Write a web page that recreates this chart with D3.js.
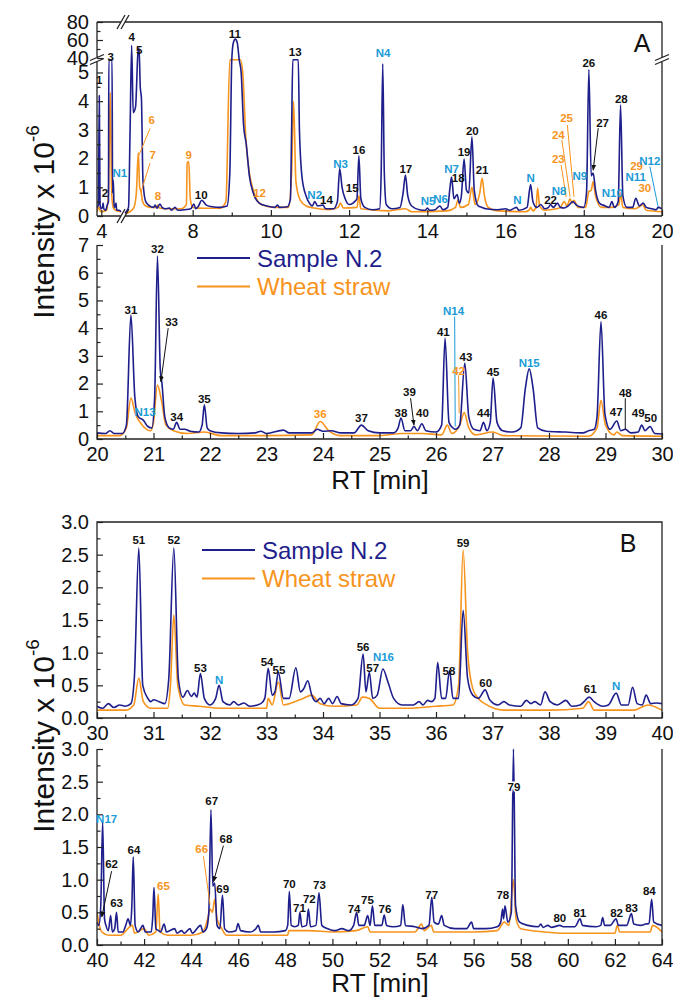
<!DOCTYPE html>
<html>
<head>
<meta charset="utf-8">
<script src="https://cdn.jsdelivr.net/npm/d3@7"></script>
<style>
  body { margin: 0; background: #fff; }
  svg { display: block; }
</style>
</head>
<body>
<svg id="chart" width="673" height="1001"></svg>
<script>
// ---- data: [RT min, intensity x1e-6] ----
const blueA1 = [
  [3.88,0.3],[3.92,0.4],[3.944,4.2],[3.965,0.4],[3.99,0.25],[4.03,0.3],[4.05,0.45],[4.07,0.25],[4.12,0.2],[4.17,0.4],
  [4.2,0.5],[4.21,20],[4.3,20],[4.315,0.8],[4.335,1.25],[4.355,0.4],[4.38,0.3],[4.41,0.45],[4.43,0.2],[4.5,0.2],[4.55,0.15],
  [6.27,0.1],[6.36,0.3],[6.4,3.0],[6.44,54],[6.48,3.6],[6.54,3.8],[6.6,45],[6.63,51],[6.66,4.5],[6.69,4.1],[6.73,1.2],
  [6.8,0.5],[6.9,0.35],[7.0,0.3],[7.04,0.38],[7.09,0.27],[7.16,0.42],[7.22,0.3],[7.3,0.25],[7.4,0.28],[7.46,0.2],[7.55,0.3],
  [7.62,0.2],[7.8,0.22],[7.95,0.25],[8.03,0.42],[8.08,0.25],[8.15,0.35],[8.23,0.55],[8.35,0.38],[8.5,0.32],[8.7,0.3],
  [8.88,0.35],[8.95,1.5],[9.0,20],[9.04,57],[9.09,61],[9.14,57],[9.19,20],[9.24,5],[9.3,3.2],[9.37,2.5],[9.45,1.4],
  [9.55,0.8],[9.7,0.45],[9.9,0.35],[10.1,0.3],[10.17,0.38],[10.22,0.3],[10.42,0.32],[10.5,0.6],[10.53,3],[10.56,20],
  [10.7,20],[10.73,3],[10.8,1.3],[10.9,0.7],[11.0,0.42],[11.06,0.35],[11.12,0.5],[11.2,0.35],[11.33,0.38],[11.4,0.25],
  [11.6,0.25],[11.7,0.5],[11.76,1.65],[11.82,1.0],[11.9,0.6],[12.0,0.4],[12.1,0.45],[12.14,0.5],[12.2,0.6],[12.25,2.1],
  [12.3,0.6],[12.4,0.3],[12.6,0.22],[12.78,0.25],[12.82,1.5],[12.86,5.3],[12.9,1.5],[12.95,0.4],[13.1,0.25],[13.3,0.3],
  [13.38,0.8],[13.44,1.43],[13.5,0.7],[13.6,0.35],[13.8,0.22],[13.95,0.2],[14.0,0.28],[14.06,0.2],[14.2,0.22],[14.32,0.35],
  [14.4,0.22],[14.52,0.3],[14.58,1.0],[14.62,1.36],[14.68,0.6],[14.76,0.75],[14.82,0.45],[14.87,0.7],[14.94,1.98],[15.0,0.9],
  [15.06,0.8],[15.14,2.76],[15.2,0.9],[15.3,0.35],[15.4,0.3],[15.5,0.25],[15.8,0.22],[16.0,0.25],[16.1,0.2],[16.28,0.3],
  [16.34,0.2],[16.55,0.3],[16.64,1.1],[16.7,0.5],[16.8,0.3],[16.9,0.4],[17.0,0.25],[17.1,0.3],[17.15,0.4],[17.22,0.3],
  [17.33,0.45],[17.4,0.3],[17.5,0.28],[17.6,0.35],[17.72,0.5],[17.8,0.4],[17.9,0.32],[18.0,0.3],[18.07,0.8],[18.13,5.1],
  [18.19,1.4],[18.24,1.5],[18.3,0.9],[18.4,0.45],[18.55,0.35],[18.65,0.3],[18.72,0.5],[18.78,0.3],[18.88,0.5],[18.94,3.87],
  [19.0,0.7],[19.1,0.3],[19.25,0.3],[19.33,0.62],[19.42,0.35],[19.52,0.45],[19.6,0.3],[19.75,0.25],[19.85,0.22],[19.9,0.3],[20,0.25]
];
const orangeA1 = [
  [3.88,0.15],[3.94,0.3],[3.98,0.15],[4.15,0.2],[4.2,0.8],[4.25,4.3],[4.29,0.8],[4.33,0.3],[4.4,0.2],[4.55,0.15],
  [6.27,0.1],[6.4,0.15],[6.5,0.3],[6.56,0.8],[6.61,2.2],[6.645,1.0],[6.68,0.85],[6.72,0.5],[6.8,0.35],[6.95,0.3],[7.08,0.3],
  [7.11,0.38],[7.15,0.28],[7.4,0.25],[7.7,0.25],[7.84,0.4],[7.86,1.85],[7.9,1.9],[7.94,0.6],[8.0,0.3],[8.3,0.27],[8.7,0.27],
  [8.85,0.5],[8.95,20],[9.22,20],[9.28,5],[9.36,2.7],[9.45,1.5],[9.55,0.9],[9.65,0.55],[9.71,0.45],[9.78,0.38],[10.1,0.3],
  [10.45,0.3],[10.53,1.5],[10.58,4.0],[10.64,1.2],[10.75,0.55],[10.9,0.35],[11.1,0.28],[11.5,0.22],[11.72,0.3],[11.78,0.45],
  [11.85,0.28],[12.2,0.3],[12.25,0.7],[12.3,0.25],[13.0,0.18],[13.44,0.25],[13.6,0.15],[14.5,0.18],[14.72,0.3],[14.78,0.55],
  [14.85,0.3],[15.05,0.4],[15.14,1.0],[15.22,0.4],[15.34,0.8],[15.4,1.32],[15.46,0.7],[15.56,0.3],[15.8,0.18],[16.5,0.15],
  [16.6,0.2],[16.64,0.3],[16.7,0.18],[16.78,0.3],[16.82,0.97],[16.87,0.35],[17.0,0.2],[17.3,0.25],[17.4,0.3],[17.5,0.5],
  [17.57,0.35],[17.65,0.6],[17.7,0.45],[17.75,0.55],[17.85,0.3],[18.05,0.3],[18.13,0.85],[18.19,0.9],[18.24,1.2],[18.3,0.7],
  [18.45,0.3],[18.7,0.3],[18.9,0.4],[18.94,0.8],[19.0,0.3],[19.3,0.25],[19.45,0.35],[19.5,0.4],[19.6,0.2],[20,0.15]
];
const blueA2 = [
  [20,0.22],[20.15,0.2],[20.23,0.3],[20.3,0.2],[20.45,0.2],[20.52,0.5],[20.6,4.48],[20.67,1.5],[20.73,0.8],[20.82,0.68],
  [20.9,0.45],[20.97,0.4],[21.02,1.5],[21.07,6.6],[21.12,2.5],[21.15,2.0],[21.2,0.8],[21.28,0.4],[21.35,0.35],[21.41,0.6],
  [21.47,0.35],[21.55,0.35],[21.65,0.28],[21.8,0.25],[21.86,0.5],[21.9,1.23],[21.95,0.4],[22.0,0.3],[22.2,0.22],[22.5,0.2],
  [22.8,0.22],[22.9,0.28],[23.0,0.2],[23.3,0.32],[23.4,0.22],[23.8,0.22],[23.9,0.35],[24.0,0.28],[24.15,0.3],[24.3,0.22],
  [24.55,0.22],[24.68,0.5],[24.8,0.3],[25.0,0.22],[25.25,0.22],[25.33,0.4],[25.38,0.76],[25.45,0.3],[25.55,0.3],[25.61,0.45],
  [25.67,0.3],[25.75,0.55],[25.82,0.3],[26.0,0.25],[26.1,0.5],[26.16,3.64],[26.23,0.6],[26.3,0.4],[26.34,0.35],[26.42,0.5],
  [26.51,2.74],[26.58,0.8],[26.67,0.35],[26.78,0.3],[26.84,0.6],[26.9,0.3],[26.96,0.6],[27.01,2.2],[27.08,0.6],[27.18,0.3],
  [27.35,0.25],[27.5,0.4],[27.58,1.8],[27.65,2.53],[27.72,1.8],[27.8,0.4],[27.95,0.28],[28.3,0.25],[28.6,0.22],[28.7,0.3],
  [28.8,0.35],[28.85,0.8],[28.92,4.24],[28.99,0.9],[29.08,0.35],[29.2,0.65],[29.27,0.3],[29.35,0.35],[29.45,0.22],[29.58,0.25],
  [29.64,0.5],[29.7,0.3],[29.79,0.45],[29.87,0.2],[30,0.18]
];
const orangeA2 = [
  [20,0.12],[20.4,0.12],[20.52,0.4],[20.6,1.48],[20.68,0.9],[20.8,0.5],[20.95,0.3],[21.0,0.6],[21.07,1.95],[21.14,1.4],
  [21.22,0.5],[21.35,0.3],[21.6,0.2],[21.9,0.25],[22.2,0.12],[23.0,0.12],[23.8,0.15],[23.95,0.63],[24.1,0.3],[24.3,0.12],
  [25.0,0.12],[25.4,0.2],[25.75,0.2],[26.1,0.15],[26.2,0.5],[26.28,0.2],[26.42,0.5],[26.5,0.95],[26.58,0.4],[26.7,0.15],
  [27.0,0.25],[27.2,0.12],[28.7,0.1],[28.85,0.4],[28.92,1.4],[29.0,0.5],[29.15,0.15],[29.2,0.25],[29.3,0.12],[30,0.1]
];
const blueB1 = [
  [30,0.18],[30.1,0.15],[30.2,0.22],[30.3,0.16],[30.4,0.2],[30.5,0.18],[30.6,0.22],[30.66,0.6],[30.74,2.6],[30.81,0.5],
  [30.9,0.3],[30.95,0.25],[31.0,0.28],[31.1,0.25],[31.2,0.22],[31.27,0.6],[31.36,2.6],[31.44,0.6],[31.52,0.32],[31.6,0.42],
  [31.67,0.33],[31.72,0.38],[31.77,0.32],[31.83,0.68],[31.9,0.3],[32.0,0.2],[32.1,0.3],[32.16,0.5],[32.23,0.25],[32.35,0.2],
  [32.42,0.25],[32.5,0.2],[32.6,0.23],[32.7,0.18],[32.9,0.22],[32.97,0.3],[33.03,0.76],[33.1,0.35],[33.15,0.4],[33.21,0.7],
  [33.3,0.3],[33.4,0.3],[33.52,0.77],[33.6,0.4],[33.66,0.45],[33.73,0.57],[33.8,0.35],[33.88,0.25],[33.95,0.3],[34.02,0.22],
  [34.1,0.3],[34.17,0.22],[34.25,0.33],[34.32,0.22],[34.5,0.2],[34.62,0.3],[34.71,0.98],[34.76,0.4],[34.82,0.7],[34.88,0.3],
  [34.96,0.35],[35.06,0.75],[35.15,0.55],[35.25,0.3],[35.4,0.2],[35.6,0.2],[35.7,0.25],[35.77,0.2],[35.85,0.27],[35.92,0.25],
  [35.98,0.3],[36.03,0.85],[36.1,0.3],[36.17,0.3],[36.24,0.73],[36.3,0.3],[36.4,0.3],[36.48,1.65],[36.56,0.6],[36.65,0.35],
  [36.75,0.3],[36.87,0.43],[36.95,0.28],[37.1,0.2],[37.2,0.25],[37.3,0.2],[37.5,0.18],[37.6,0.27],[37.68,0.22],[37.75,0.25],
  [37.85,0.2],[37.93,0.4],[38.02,0.25],[38.15,0.2],[38.3,0.27],[38.4,0.18],[38.55,0.2],[38.62,0.25],[38.71,0.32],[38.8,0.25],
  [38.95,0.18],[39.05,0.2],[39.19,0.38],[39.28,0.2],[39.4,0.2],[39.48,0.47],[39.56,0.22],[39.65,0.2],[39.72,0.35],[39.8,0.22],
  [39.9,0.23],[40,0.22]
];
const orangeB1 = [
  [30,0.12],[30.5,0.12],[30.65,0.2],[30.74,0.61],[30.82,0.25],[30.95,0.15],[31.25,0.15],[31.3,0.5],[31.36,1.58],[31.43,0.5],
  [31.55,0.2],[31.8,0.18],[32.2,0.15],[33.0,0.15],[33.03,0.3],[33.1,0.2],[33.21,0.55],[33.3,0.2],[33.5,0.25],[33.65,0.3],
  [33.8,0.35],[33.95,0.22],[34.2,0.18],[34.6,0.2],[34.7,0.32],[34.82,0.3],[35.0,0.15],[35.5,0.15],[36.0,0.18],[36.3,0.2],
  [36.4,0.5],[36.48,2.57],[36.56,1.0],[36.65,0.45],[36.75,0.3],[36.9,0.2],[37.2,0.12],[38.0,0.12],[38.6,0.15],[38.7,0.25],
  [38.8,0.12],[39.5,0.12],[39.75,0.2],[40,0.12]
];
const blueB2 = [
  [40,0.35],[40.08,0.3],[40.16,0.6],[40.24,1.89],[40.32,0.4],[40.38,0.3],[40.48,0.22],[40.58,0.45],[40.65,0.2],[40.75,0.25],
  [40.83,0.5],[40.9,0.2],[41.1,0.2],[41.22,0.3],[41.32,0.4],[41.42,0.3],[41.48,0.6],[41.54,1.35],[41.62,0.3],[41.75,0.2],
  [41.85,0.25],[41.95,0.3],[42.05,0.2],[42.3,0.2],[42.37,0.45],[42.42,0.88],[42.5,0.25],[42.62,0.22],[42.7,0.2],[42.85,0.32],
  [42.95,0.2],[43.3,0.25],[43.4,0.18],[43.6,0.22],[43.7,0.18],[43.95,0.25],[44.05,0.18],[44.4,0.3],[44.5,0.2],[44.65,0.25],
  [44.75,0.5],[44.84,2.07],[44.92,0.9],[45.0,0.95],[45.1,0.3],[45.22,0.25],[45.33,0.76],[45.42,0.25],[45.6,0.2],[45.9,0.22],
  [45.99,0.33],[46.1,0.22],[46.5,0.2],[46.75,0.25],[46.85,0.3],[46.95,0.2],[47.5,0.2],[48.0,0.22],[48.1,0.3],[48.17,0.82],
  [48.25,0.3],[48.4,0.28],[48.55,0.3],[48.62,0.5],[48.7,0.28],[48.9,0.3],[48.98,0.55],[49.07,0.28],[49.3,0.3],[49.43,0.8],
  [49.55,0.3],[49.8,0.25],[50.1,0.22],[50.4,0.25],[50.7,0.22],[50.9,0.3],[51.03,0.5],[51.12,0.3],[51.35,0.3],[51.5,0.45],
  [51.6,0.3],[51.7,0.6],[51.8,0.3],[52.1,0.3],[52.2,0.46],[52.3,0.3],[52.6,0.28],[52.9,0.3],[52.99,0.62],[53.1,0.3],
  [53.5,0.28],[53.8,0.25],[54.1,0.3],[54.22,0.73],[54.32,0.35],[54.5,0.32],[54.64,0.45],[54.75,0.3],[55.2,0.25],[55.7,0.25],
  [55.91,0.35],[56.0,0.25],[56.5,0.25],[57.0,0.28],[57.15,0.35],[57.23,0.55],[57.27,0.4],[57.33,0.6],[57.45,0.35],[57.6,0.5],
  [57.69,3.0],[57.78,0.6],[57.95,0.35],[58.3,0.3],[58.75,0.28],[58.85,0.32],[58.95,0.27],[59.15,0.3],[59.3,0.27],[59.66,0.3],
  [59.8,0.28],[60.3,0.28],[60.52,0.4],[60.62,0.3],[61.2,0.28],[61.4,0.3],[61.48,0.42],[61.56,0.3],[61.8,0.3],[62.05,0.4],
  [62.15,0.3],[62.5,0.3],[62.7,0.48],[62.8,0.32],[63.1,0.3],[63.3,0.32],[63.45,0.33],[63.56,0.7],[63.65,0.35],[64,0.3]
];
const orangeB2 = [
  [40,0.5],[40.1,0.3],[40.2,0.2],[40.5,0.15],[41.0,0.15],[41.5,0.3],[41.6,0.18],[42.0,0.25],[42.2,0.15],[42.5,0.2],
  [42.6,0.78],[42.68,0.2],[43.0,0.15],[44.0,0.15],[44.5,0.2],[44.7,0.4],[44.8,0.55],[44.9,0.5],[45.0,0.7],[45.1,0.4],
  [45.3,0.25],[45.5,0.15],[47.0,0.15],[48.1,0.15],[48.15,0.22],[49.0,0.22],[50.0,0.2],[51.0,0.22],[51.5,0.28],[51.6,0.2],
  [53.5,0.2],[53.79,0.32],[53.9,0.22],[54.2,0.3],[54.3,0.2],[56.0,0.2],[57.0,0.22],[57.3,0.35],[57.5,0.3],[57.69,1.0],
  [57.8,0.4],[58.0,0.25],[59.0,0.2],[60.0,0.18],[61.0,0.18],[62.0,0.18],[62.1,0.3],[62.2,0.2],[63.5,0.2],[63.6,0.3],[64,0.2]
];

// ---- peak labels: [RT, intensity, text, k=black n=cyan o=orange] ----
const labelsA1 = [
  [3.944,4.74,"1","k"],[4.1,0.8,"2","k"],[4.26,41,"3","k"],[4.52,1.5,"N1","n"],[6.44,63,"4","k"],[6.63,49,"5","k"],
  [6.95,3.35,"6","o"],[6.98,2.13,"7","o"],[7.11,0.7,"8","o"],[7.9,2.12,"9","o"],[8.22,0.73,"10","k"],[9.08,66.7,"11","k"],
  [9.71,0.8,"12","o"],[10.62,46.7,"13","k"],[11.12,0.73,"N2","n"],[11.42,0.56,"14","k"],[11.78,1.81,"N3","n"],
  [12.08,0.98,"15","k"],[12.25,2.3,"16","k"],[12.87,45.6,"N4","n"],[13.45,1.64,"17","k"],[14.02,0.52,"N5","n"],
  [14.34,0.59,"N6","n"],[14.62,1.64,"N7","n"],[14.79,1.32,"18","k"],[14.94,2.23,"19","k"],[15.15,2.96,"20","k"],
  [15.4,1.6,"21","k"],[16.3,0.56,"N","n"],[16.64,1.32,"N","n"],[17.15,0.56,"22","k"],[17.37,0.87,"N8","n"],
  [17.35,1.98,"23","o"],[17.35,2.82,"24","o"],[17.56,3.4,"25","o"],[17.9,1.39,"N9","n"],[18.13,5.32,"26","k"],
  [18.48,3.25,"27","k"],[18.96,4.08,"28","k"],[18.73,0.81,"N10","n"],[19.33,1.37,"N11","n"],[19.35,1.75,"29","o"],
  [19.56,0.99,"30","o"],[19.69,1.92,"N12","n"]
];
const labelsA2 = [
  [20.6,4.66,"31","k"],[20.85,0.99,"N13","n"],[21.07,6.85,"32","k"],[21.32,4.23,"33","k"],[21.41,0.8,"34","k"],
  [21.9,1.43,"35","k"],[23.95,0.89,"36","o"],[24.68,0.77,"37","k"],[25.38,0.95,"38","k"],[25.53,1.69,"39","k"],
  [25.76,0.93,"40","k"],[26.13,3.87,"41","k"],[26.31,4.63,"N14","n"],[26.4,2.47,"42","o"],[26.53,2.95,"43","k"],
  [26.84,0.95,"44","k"],[27.01,2.43,"45","k"],[27.65,2.73,"N15","n"],[28.92,4.48,"46","k"],[29.19,0.99,"47","k"],
  [29.35,1.67,"48","k"],[29.58,0.93,"49","k"],[29.8,0.75,"50","k"]
];
const labelsB1 = [
  [30.74,2.73,"51","k"],[31.36,2.73,"52","k"],[31.83,0.77,"53","k"],[32.16,0.58,"N","n"],[33.01,0.85,"54","k"],
  [33.22,0.73,"55","k"],[34.71,1.09,"56","k"],[34.88,0.77,"57","k"],[35.07,0.94,"N16","n"],[36.23,0.72,"58","k"],
  [36.48,2.68,"59","k"],[36.88,0.54,"60","k"],[38.73,0.44,"61","k"],[39.19,0.49,"N","n"]
];
const labelsB2 = [
  [40.41,1.93,"N17","n"],[40.62,1.24,"62","k"],[40.83,0.64,"63","k"],[41.57,1.45,"64","k"],[42.82,0.91,"65","o"],
  [44.45,1.47,"66","o"],[44.87,2.2,"67","k"],[45.48,1.62,"68","k"],[45.34,0.86,"69","k"],[48.17,0.93,"70","k"],
  [48.6,0.57,"71","k"],[49.02,0.71,"72","k"],[49.45,0.92,"73","k"],[50.92,0.55,"74","k"],[51.49,0.69,"75","k"],
  [52.23,0.55,"76","k"],[54.22,0.77,"77","k"],[57.24,0.77,"78","k"],[57.71,2.42,"79","k"],[59.66,0.42,"80","k"],
  [60.51,0.49,"81","k"],[62.07,0.49,"82","k"],[62.71,0.57,"83","k"],[63.46,0.83,"84","k"]
];
// leader lines: [RT1, I1, RT2, I2, colour, arrow]
const leadersA1 = [
  [6.91,3.05,6.61,2.07,"o",0],[6.91,1.85,6.68,0.84,"o",0],[17.42,1.78,17.55,0.66,"o",0],
  [17.44,2.65,17.65,0.67,"o",0],[17.58,3.17,17.75,0.67,"o",0],[18.37,3.06,18.24,1.6,"k",1],[19.69,1.72,19.9,0.32,"n",0]
];
const leadersA2 = [
  [21.26,4.0,21.13,2.07,"k",1],[25.55,1.47,25.61,0.5,"k",1],[26.33,4.42,26.34,0.45,"n",0],
  [26.4,2.3,26.41,0.93,"o",0],[29.35,1.47,29.35,0.35,"k",0]
];
const leadersB2 = [
  [40.62,1.13,40.2,0.43,"k",1],[44.52,1.36,44.8,0.62,"o",0],[45.37,1.52,44.95,0.97,"k",1]
];

// ---- tick values ----
const xMajorA1 = [4,8,10,12,14,16,18,20], xMinorA1 = [7,9,11,13,15,17,19];
const yMajorA1 = [0,1,2,3,4,5,40,60,80], yMinorA1 = [0.5,1.5,2.5,3.5,4.5,50,70];
const xMajorA2 = [20,21,22,23,24,25,26,27,28,29,30], xMinorA2 = [20.5,21.5,22.5,23.5,24.5,25.5,26.5,27.5,28.5,29.5];
const yMajorA2 = [0,1,2,3,4,5,6,7], yMinorA2 = [0.5,1.5,2.5,3.5,4.5,5.5,6.5];
const xMajorB1 = [30,31,32,33,34,35,36,37,38,39,40], xMinorB1 = [30.5,31.5,32.5,33.5,34.5,35.5,36.5,37.5,38.5,39.5];
const xMajorB2 = [40,42,44,46,48,50,52,54,56,58,60,62,64], xMinorB2 = [41,43,45,47,49,51,53,55,57,59,61,63];
const yMajorB = [0,0.5,1,1.5,2,2.5,3], yMinorB = [0.25,0.75,1.25,1.75,2.25,2.75];

const seriesNames = ["Sample N.2", "Wheat straw"];

const BLUE = "#1e1e8c", ORANGE = "#f7941d", CYAN = "#1b9bd7", INK = "#222";
const FONT = "Arial, 'Liberation Sans', sans-serif";
const labelColor = { k: "#111", n: CYAN, o: ORANGE };

const svg = d3.select("#chart");
const defs = svg.append("defs");
defs.append("marker").attr("id", "arrow")
    .attr("viewBox", "0 0 10 10").attr("refX", 9).attr("refY", 5)
    .attr("markerWidth", 6).attr("markerHeight", 6).attr("orient", "auto")
  .append("path").attr("d", "M0,1 L10,5 L0,9 Z").attr("fill", "#111");

const panels = [
  { id: "A1", xDom: [3.88,4.55,6.27,20], xRange: [97,121,125,662], yDom: [0,5.4,40,80], yRange: [216,61,58,22],
    blue: blueA1, orange: orangeA1, labels: labelsA1, leaders: leadersA1,
    segs: [[3.88,4.55],[6.27,20]], xMajor: xMajorA1, xMinor: xMinorA1, yMajor: yMajorA1, yMinor: yMinorA1,
    yFmt: d3.format("d"), frame: "broken" },
  { id: "A2", xDom: [20,30], xRange: [97,662], yDom: [0,7], yRange: [439,245],
    blue: blueA2, orange: orangeA2, labels: labelsA2, leaders: leadersA2,
    xMajor: xMajorA2, xMinor: xMinorA2, yMajor: yMajorA2, yMinor: yMinorA2,
    yFmt: d3.format("d"), frame: "open", legend: [197, 258] },
  { id: "B1", xDom: [30,40], xRange: [97,662], yDom: [0,3], yRange: [718,522],
    blue: blueB1, orange: orangeB1, labels: labelsB1, leaders: [],
    xMajor: xMajorB1, xMinor: xMinorB1, yMajor: yMajorB, yMinor: yMinorB,
    yFmt: d3.format(".1f"), frame: "box", legend: [202, 550] },
  { id: "B2", xDom: [40,64], xRange: [97,662], yDom: [0,3], yRange: [945,749],
    blue: blueB2, orange: orangeB2, labels: labelsB2, leaders: leadersB2,
    xMajor: xMajorB2, xMinor: xMinorB2, yMajor: yMajorB, yMinor: yMinorB,
    yFmt: d3.format(".1f"), frame: "open" }
];

panels.forEach(drawPanel);

function drawPanel(p) {
  const x = d3.scaleLinear().domain(p.xDom).range(p.xRange);
  const y = d3.scaleLinear().domain(p.yDom).range(p.yRange);
  const left = p.xRange[0], right = p.xRange[p.xRange.length - 1];
  const bottom = p.yRange[0], top = p.yRange[p.yRange.length - 1];
  const g = svg.append("g");

  defs.append("clipPath").attr("id", "clip" + p.id)
    .append("rect").attr("x", left).attr("y", top - 1)
    .attr("width", right - left).attr("height", bottom - top + 1);

  const line = d3.line().x(d => x(d[0])).y(d => y(d[1])).curve(d3.curveMonotoneX);
  const segs = p.segs || [[p.xDom[0], p.xDom[p.xDom.length - 1]]];
  [[p.orange, ORANGE], [p.blue, BLUE]].forEach(([data, c]) => {
    segs.forEach(([a, b]) => {
      g.append("path")
        .datum(data.filter(d => d[0] >= a && d[0] <= b))
        .attr("clip-path", `url(#clip${p.id})`)
        .attr("d", line)
        .attr("fill", "none")
        .attr("stroke", c)
        .attr("stroke-width", 1.6)
        .attr("stroke-linejoin", "round");
    });
  });

  // axes, ticks pointing inwards
  const axX = g.append("g").attr("transform", `translate(0,${bottom})`)
    .call(d3.axisBottom(x).tickValues(p.xMajor).tickSizeInner(-6).tickSizeOuter(0).tickPadding(8).tickFormat(d3.format("d")));
  const axXm = g.append("g").attr("transform", `translate(0,${bottom})`)
    .call(d3.axisBottom(x).tickValues(p.xMinor).tickSizeInner(-3.5).tickSizeOuter(0).tickFormat(""));
  const axY = g.append("g").attr("transform", `translate(${left},0)`)
    .call(d3.axisLeft(y).tickValues(p.yMajor).tickSizeInner(-6).tickSizeOuter(0).tickPadding(8).tickFormat(p.yFmt));
  const axYm = g.append("g").attr("transform", `translate(${left},0)`)
    .call(d3.axisLeft(y).tickValues(p.yMinor).tickSizeInner(-3.5).tickSizeOuter(0).tickFormat(""));
  [axX, axXm, axY, axYm].forEach(a => {
    a.select(".domain").remove();
    a.attr("font-size", 20).attr("font-family", FONT);
    a.selectAll("line").attr("stroke", INK).attr("stroke-width", 1.2);
    a.selectAll("text").attr("fill", "#111");
  });

  // frame
  const fr = d3.path();
  if (p.frame === "box") {
    fr.rect(left, top, right - left, bottom - top);
  } else if (p.frame === "open") {
    fr.moveTo(left, top); fr.lineTo(left, bottom); fr.lineTo(right, bottom); fr.lineTo(right, top);
  } else {
    const gx0 = p.xRange[1], gx1 = p.xRange[2], gy0 = p.yRange[2] - 0.5, gy1 = p.yRange[1] + 0.5;
    fr.moveTo(left, top); fr.lineTo(gx0, top); fr.moveTo(gx1, top); fr.lineTo(right, top);
    fr.moveTo(left, bottom); fr.lineTo(gx0, bottom); fr.moveTo(gx1, bottom); fr.lineTo(right, bottom);
    fr.moveTo(left, top); fr.lineTo(left, gy0); fr.moveTo(left, gy1); fr.lineTo(left, bottom);
    fr.moveTo(right, top); fr.lineTo(right, gy0); fr.moveTo(right, gy1); fr.lineTo(right, bottom);
    // break marks
    [gx0, gx1].forEach(bx => {
      [top, bottom].forEach(by => { fr.moveTo(bx - 4, by + 7); fr.lineTo(bx + 4, by - 7); });
    });
    [gy0, gy1].forEach(by => {
      [left, right].forEach(bx => { fr.moveTo(bx - 7, by + 3); fr.lineTo(bx + 7, by - 3); });
    });
  }
  g.append("path").attr("d", fr.toString()).attr("fill", "none")
    .attr("stroke", INK).attr("stroke-width", 1.3);

  // leader lines
  g.selectAll("line.leader").data(p.leaders).join("line")
    .attr("class", "leader")
    .attr("x1", d => x(d[0])).attr("y1", d => y(d[1]))
    .attr("x2", d => x(d[2])).attr("y2", d => y(d[3]))
    .attr("stroke", d => labelColor[d[4]]).attr("stroke-width", 1)
    .attr("marker-end", d => d[5] ? "url(#arrow)" : null);

  // peak labels
  g.selectAll("text.peak").data(p.labels).join("text")
    .attr("class", "peak")
    .attr("x", d => x(d[0])).attr("y", d => y(d[1]))
    .attr("text-anchor", "middle").attr("dominant-baseline", "central")
    .attr("font-family", FONT).attr("font-size", 11.5).attr("font-weight", "bold")
    .attr("fill", d => labelColor[d[3]])
    .attr("stroke", d => d[2] === "79" ? "#fff" : null).attr("stroke-width", 3)
    .attr("paint-order", "stroke")
    .text(d => d[2]);

  if (p.legend) {
    const [lx, ly] = p.legend;
    const lg = g.append("g").attr("font-family", FONT).attr("font-size", 24);
    [BLUE, ORANGE].forEach((c, i) => {
      const yy = ly + i * 28.5;
      lg.append("line").attr("x1", lx).attr("x2", lx + 53).attr("y1", yy).attr("y2", yy)
        .attr("stroke", c).attr("stroke-width", 2);
      lg.append("text").attr("x", lx + 60).attr("y", yy).attr("dominant-baseline", "central")
        .attr("fill", c).text(seriesNames[i]);
    });
  }
}

// titles
function yTitle(cy) {
  const t = svg.append("text")
    .attr("transform", `translate(43,${cy}) rotate(-90)`)
    .attr("text-anchor", "middle").attr("dominant-baseline", "central")
    .attr("font-family", FONT).attr("font-size", 30).attr("fill", "#111");
  t.append("tspan").text("Intensity x 10");
  t.append("tspan").attr("font-size", 19).attr("dy", -11).text("-6");
}
yTitle(222);
yTitle(736);

[489, 992].forEach(ty => {
  svg.append("text").attr("x", 380).attr("y", ty).attr("text-anchor", "middle")
    .attr("font-family", FONT).attr("font-size", 26).attr("fill", "#111").text("RT [min]");
});
svg.append("text").attr("x", 642).attr("y", 43).attr("text-anchor", "middle").attr("dominant-baseline", "central")
  .attr("font-family", FONT).attr("font-size", 25).attr("fill", "#111").text("A");
svg.append("text").attr("x", 628).attr("y", 543).attr("text-anchor", "middle").attr("dominant-baseline", "central")
  .attr("font-family", FONT).attr("font-size", 25).attr("fill", "#111").text("B");
</script>
</body>
</html>
